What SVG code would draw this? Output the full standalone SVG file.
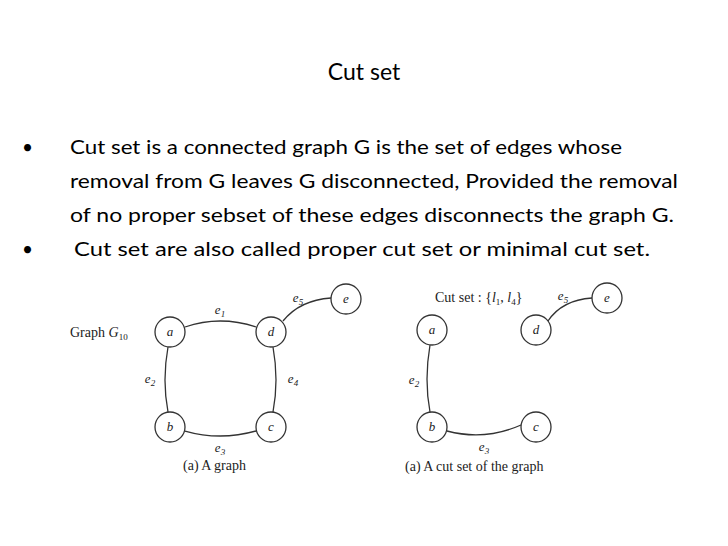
<svg xmlns="http://www.w3.org/2000/svg" width="728" height="546" viewBox="0 0 728 546">
<style>
.t{font-family:Lato,"Liberation Sans",sans-serif;font-size:19px;fill:#000}
.n circle{fill:#fff;stroke:#333;stroke-width:1.3}
.n text,.l{font-family:"Liberation Serif",serif;font-style:italic;font-size:13px;text-anchor:middle;fill:#222}
.c{font-family:"Liberation Serif",serif;font-size:14px;fill:#222}
.e path{fill:none;stroke:#333;stroke-width:1.3}
</style>
<rect width="728" height="546" fill="#fff"/>
<text x="364" y="80" class="t" style="font-size:23px" text-anchor="middle">Cut set</text>
<text x="22" y="154" class="t" style="font-size:19px">•</text>
<text x="70" y="154" class="t" textLength="552" lengthAdjust="spacingAndGlyphs">Cut set is a connected graph G is the set of edges whose</text>
<text x="70" y="188" class="t" textLength="608" lengthAdjust="spacingAndGlyphs">removal from G  leaves G disconnected, Provided the removal</text>
<text x="70" y="222" class="t" textLength="604" lengthAdjust="spacingAndGlyphs">of no proper sebset of these edges disconnects the graph G.</text>
<text x="22" y="256" class="t" style="font-size:19px">•</text>
<text x="74" y="256" class="t" textLength="576" lengthAdjust="spacingAndGlyphs">Cut set are also called proper cut set or minimal cut set.</text>

<g id="connectors" class="e">
<path d="M185,327 Q220,315 256,327"/>
<path d="M168,347 Q162,380 168,412"/>
<path d="M185,431 Q220,441 256,431"/>
<path d="M273,347 Q279,380 273,412"/>
<path d="M283,321 Q300,300 331,298"/>
<path d="M430,345 Q424,380 430,412"/>
<path d="M447,431 Q485,441 521,425"/>
<path d="M548,321 Q562,300 592,298"/>
</g>
<g class="l">
<text x="220" y="314">e<tspan font-size="9" dy="3">1</tspan></text>
<text x="150" y="383">e<tspan font-size="9" dy="3">2</tspan></text>
<text x="220" y="452">e<tspan font-size="9" dy="3">3</tspan></text>
<text x="293" y="383">e<tspan font-size="9" dy="3">4</tspan></text>
<text x="298" y="302">e<tspan font-size="9" dy="3">5</tspan></text>
<text x="414" y="384">e<tspan font-size="9" dy="3">2</tspan></text>
<text x="484" y="451">e<tspan font-size="9" dy="3">3</tspan></text>
<text x="563" y="300">e<tspan font-size="9" dy="3">5</tspan></text>
</g>
<g id="a1" class="n"><circle cx="170" cy="332" r="15"/><text x="170" y="336">a</text></g>
<g id="d1" class="n"><circle cx="271" cy="332" r="15"/><text x="271" y="336">d</text></g>
<g id="e1n" class="n"><circle cx="346" cy="299" r="15"/><text x="346" y="303">e</text></g>
<g id="b1" class="n"><circle cx="170" cy="427" r="15"/><text x="170" y="431">b</text></g>
<g id="c1" class="n"><circle cx="271" cy="427" r="15"/><text x="271" y="431">c</text></g>
<g id="a2" class="n"><circle cx="432" cy="330" r="15"/><text x="432" y="334">a</text></g>
<g id="d2" class="n"><circle cx="536" cy="330" r="15"/><text x="536" y="334">d</text></g>
<g id="e2n" class="n"><circle cx="607" cy="298" r="15"/><text x="607" y="302">e</text></g>
<g id="b2" class="n"><circle cx="432" cy="427" r="15"/><text x="432" y="431">b</text></g>
<g id="c2" class="n"><circle cx="536" cy="427" r="15"/><text x="536" y="431">c</text></g>
<text x="70" y="337" class="c">Graph <tspan font-style="italic">G</tspan><tspan font-size="9" dy="3">10</tspan></text>
<text x="183" y="470" class="c">(a) A graph</text>
<text x="435" y="302" class="c">Cut set : {<tspan font-style="italic">l</tspan><tspan font-size="9" dy="3">1</tspan><tspan dy="-3">, </tspan><tspan font-style="italic">l</tspan><tspan font-size="9" dy="3">4</tspan><tspan dy="-3">}</tspan></text>
<text x="405" y="471" class="c">(a) A cut set of the graph</text>
</svg>
